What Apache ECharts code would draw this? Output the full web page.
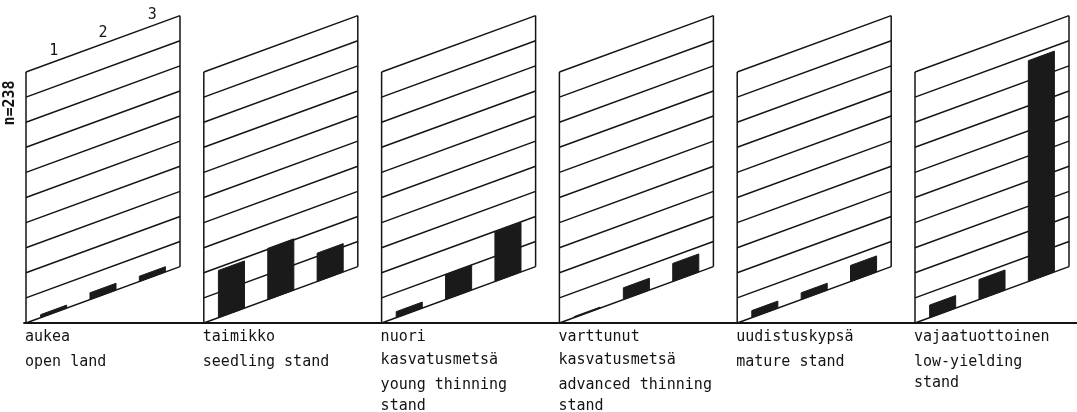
<!DOCTYPE html>
<html>
<head>
<meta charset="utf-8">
<script src="https://cdn.jsdelivr.net/npm/echarts@6/dist/echarts.min.js"></script>
<style>
  html, body { margin: 0; padding: 0; background: #ffffff; }
  #chart { width: 1077px; height: 412px; }
</style>
</head>
<body>
<div id="chart"></div>
<script>
// ---------------- data ----------------
const categoriesFi = [
  ['aukea'],
  ['taimikko'],
  ['nuori', 'kasvatusmetsä'],
  ['varttunut', 'kasvatusmetsä'],
  ['uudistuskypsä'],
  ['vajaatuottoinen']
];
const categoriesEn = [
  ['open land'],
  ['seedling stand'],
  ['young thinning', 'stand'],
  ['advanced thinning', 'stand'],
  ['mature stand'],
  ['low-yielding', 'stand']
];
const barLabels = ['1', '2', '3'];
const series1 = [1.2, 18.8, 2.4, 0.4, 2.8, 5.0];
const series2 = [2.7, 20.4, 10.0, 4.7, 2.7, 8.0];
const series3 = [2.1, 11.3, 19.7, 7.2, 6.4, 88.0];
const yTicks = [0, 10, 20, 30, 40, 50, 60, 70, 80, 90, 100];
const nLabel = 'n=238';

// ---------------- layout ----------------
const PANEL_LEFT0 = 26, PANEL_STEP = 177.8, PANEL_W = 154;
const TOP = 72, PANEL_H = 251;
const SLOPE = 0.366;
const X_MIN = -0.56, X_MAX = 2.56;
const BAR_HALF = 0.264;
const INK = '#141414';
const FONT = '15px "DejaVu Sans Mono"';

function shear(api, pt) {
  const o = api.coord([X_MIN, 0]);
  return [pt[0], pt[1] - SLOPE * (pt[0] - o[0])];
}

const grids = [], xAxes = [], yAxes = [], series = [];
for (let g = 0; g < 6; g++) {
  grids.push({ left: PANEL_LEFT0 + g * PANEL_STEP, top: TOP, width: PANEL_W, height: PANEL_H });
  xAxes.push({ gridIndex: g, type: 'value', min: X_MIN, max: X_MAX, show: false });
  yAxes.push({ gridIndex: g, type: 'value', min: 0, max: 100, show: false });

  // slanted grid lines
  series.push({
    type: 'custom', xAxisIndex: g, yAxisIndex: g, silent: true,
    data: yTicks.map(v => [v]),
    renderItem: function (params, api) {
      const v = api.value(0);
      const a = shear(api, api.coord([X_MIN, v]));
      const b = shear(api, api.coord([X_MAX, v]));
      return { type: 'line', shape: { x1: a[0], y1: a[1], x2: b[0], y2: b[1] },
               style: { stroke: INK, lineWidth: 1.5 } };
    }
  });
  // frame verticals
  series.push({
    type: 'custom', xAxisIndex: g, yAxisIndex: g, silent: true,
    data: [[X_MIN], [X_MAX]],
    renderItem: function (params, api) {
      const x = api.value(0);
      const a = shear(api, api.coord([x, 0]));
      const b = shear(api, api.coord([x, 100]));
      return { type: 'line', shape: { x1: a[0], y1: a[1], x2: b[0], y2: b[1] },
               style: { stroke: INK, lineWidth: 1.5 } };
    }
  });
  // bars
  series.push({
    type: 'custom', xAxisIndex: g, yAxisIndex: g, silent: true,
    data: [[0, series1[g]], [1, series2[g]], [2, series3[g]]],
    renderItem: function (params, api) {
      const i = api.value(0), v = api.value(1);
      const p = [
        shear(api, api.coord([i - BAR_HALF, 0])),
        shear(api, api.coord([i + BAR_HALF, 0])),
        shear(api, api.coord([i + BAR_HALF, v])),
        shear(api, api.coord([i - BAR_HALF, v]))
      ];
      return { type: 'polygon', shape: { points: p }, style: { fill: '#1a1a1a', stroke: '#1a1a1a', lineWidth: 1 } };
    }
  });
  // category labels
  series.push({
    type: 'custom', xAxisIndex: g, yAxisIndex: g, silent: true,
    data: [[g]],
    renderItem: function (params, api) {
      const k = api.value(0);
      const o = api.coord([X_MIN, 0]);
      const children = [];
      let y = o[1] + 14;
      categoriesFi[k].forEach((t, j) => {
        if (j > 0) y += 23;
        children.push({ type: 'text', style: { text: t, x: o[0] - 1, y: y, font: FONT, fill: INK, align: 'left', verticalAlign: 'middle' } });
      });
      y += 25;
      categoriesEn[k].forEach((t, j) => {
        if (j > 0) y += 21;
        children.push({ type: 'text', style: { text: t, x: o[0] - 1, y: y, font: FONT, fill: INK, align: 'left', verticalAlign: 'middle' } });
      });
      return { type: 'group', children: children };
    }
  });
}

// bar number labels above first panel
series.push({
  type: 'custom', xAxisIndex: 0, yAxisIndex: 0, silent: true,
  data: [[0], [1], [2]],
  renderItem: function (params, api) {
    const p = shear(api, api.coord([api.value(0), 100]));
    return { type: 'text', style: { text: barLabels[params.dataIndex], x: p[0], y: p[1] - 11,
             font: '15px "DejaVu Sans Mono"', fill: INK, align: 'center', verticalAlign: 'middle' } };
  }
});

// full-width baseline grid
grids.push({ left: 24, right: 0, top: TOP, height: PANEL_H });
xAxes.push({ gridIndex: 6, type: 'value', min: 0, max: 1,
  axisLine: { show: true, onZero: false, lineStyle: { color: INK, width: 1.8 } },
  axisTick: { show: false }, axisLabel: { show: false }, splitLine: { show: false } });
yAxes.push({ gridIndex: 6, type: 'value', min: 0, max: 100, show: false });

const chart = echarts.init(document.getElementById('chart'), null, { renderer: 'canvas' });
chart.setOption({
  animation: false,
  backgroundColor: '#ffffff',
  grid: grids,
  xAxis: xAxes,
  yAxis: yAxes,
  graphic: [{
    type: 'text', x: 10, y: 103, rotation: Math.PI / 2,
    style: { text: nLabel, font: 'bold 15px "DejaVu Sans Mono"', fill: INK, align: 'center', verticalAlign: 'middle' }
  }],
  series: series
});
</script>
</body>
</html>
